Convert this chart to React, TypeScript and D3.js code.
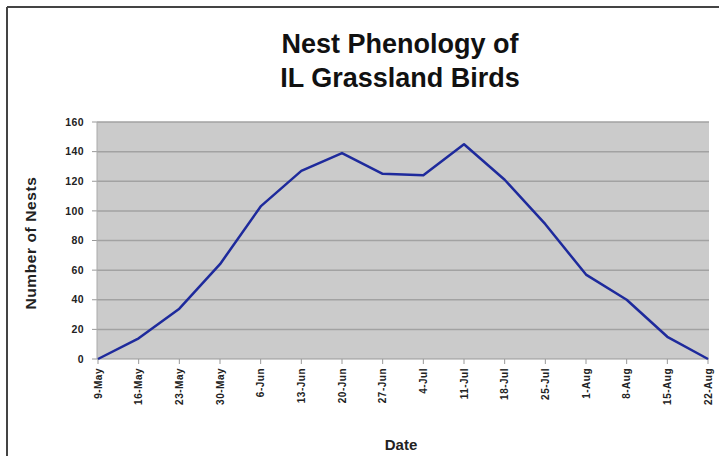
import React from "react";
import * as d3 from "d3";

const categories = ["9-May","16-May","23-May","30-May","6-Jun","13-Jun","20-Jun","27-Jun","4-Jul","11-Jul","18-Jul","25-Jul","1-Aug","8-Aug","15-Aug","22-Aug"];
const nests = [0,14,34,64,103,127,139,125,124,145,121,91,57,40,15,0];
const yTicks = [0,20,40,60,80,100,120,140,160];
const titleLines = ["Nest Phenology of","IL Grassland Birds"];

const W = 719, H = 456;
const plot = { left: 97, right: 709, top: 122, bottom: 359 };
const FONT = "'Liberation Sans', Arial, Helvetica, sans-serif";

export default function App() {
  const x = d3.scalePoint<string>().domain(categories).range([plot.left + 1, plot.right - 1]);
  const y = d3.scaleLinear().domain([0, 160]).range([plot.bottom, plot.top]);
  const line = d3.line<number>().x((_, i) => x(categories[i]) as number).y(d => y(d));

  return (
    <svg width={W} height={H} style={{ position: "absolute", left: 0, top: 0, background: "#fff" }} fontFamily={FONT}>
      <rect x={0} y={0} width={W} height={H} fill="#fff" />
      {/* outer frame */}
      <line x1={7} y1={7} x2={W} y2={7} stroke="#444" strokeWidth={2} />
      <line x1={7} y1={7} x2={7} y2={H} stroke="#444" strokeWidth={2} />

      {titleLines.map((t, i) => (
        <text key={t} x={400} y={53 + i * 34} textAnchor="middle" fontSize={27} fontWeight="bold" fill="#111">{t}</text>
      ))}

      <rect x={plot.left} y={plot.top} width={plot.right - plot.left} height={plot.bottom - plot.top} fill="#cbcbcb" />
      {yTicks.map(v => (
        <g key={v}>
          {v > 0 && <line x1={plot.left} x2={plot.right} y1={y(v)} y2={y(v)} stroke="#a2a2a2" strokeWidth={1.5} />}
          <line x1={plot.left - 5} x2={plot.left} y1={y(v)} y2={y(v)} stroke="#999" strokeWidth={1} />
          <text x={84} y={y(v)} dy="0.35em" textAnchor="end" fontSize={10.5} fontWeight="bold" fill="#222" letterSpacing={0.4}>{v}</text>
        </g>
      ))}
      <line x1={plot.left} x2={plot.left} y1={plot.top} y2={plot.bottom} stroke="#aaa" strokeWidth={1} />
      <line x1={plot.left} x2={plot.right} y1={plot.bottom} y2={plot.bottom} stroke="#999" strokeWidth={1} />
      {categories.map(c => (
        <g key={c}>
          <line x1={x(c)} x2={x(c)} y1={plot.bottom} y2={plot.bottom + 5} stroke="#999" strokeWidth={1} />
          <text transform={`translate(${(x(c) as number) + 3.5},${368}) rotate(-90)`} textAnchor="end" fontSize={10} fontWeight="bold" fill="#222" letterSpacing={0.5}>{c}</text>
        </g>
      ))}

      <path d={line(nests) || ""} fill="none" stroke="#1e2a9c" strokeWidth={2.5} strokeLinejoin="round" />

      <text transform={`translate(36,243) rotate(-90)`} textAnchor="middle" fontSize={15.5} fontWeight="bold" fill="#222" letterSpacing={0.6}>Number of Nests</text>
      <text x={401} y={450} textAnchor="middle" fontSize={15} fontWeight="bold" fill="#222">Date</text>
    </svg>
  );
}
